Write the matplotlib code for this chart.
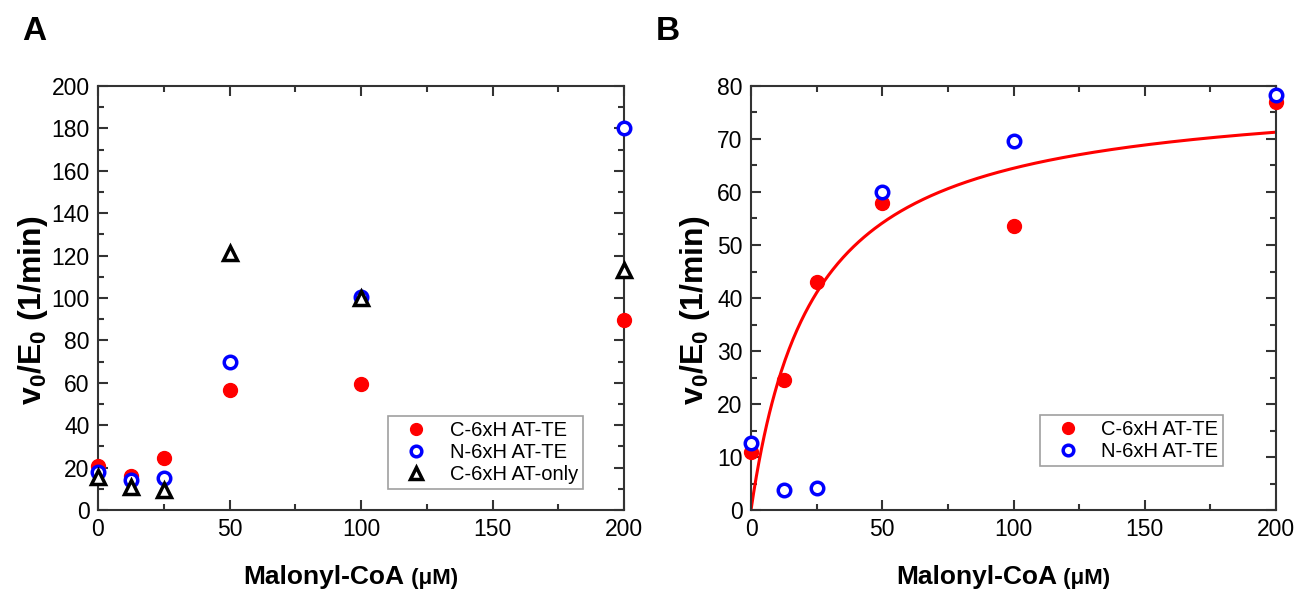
import numpy as np
import matplotlib
matplotlib.use("Agg")
import matplotlib.pyplot as plt
from matplotlib.ticker import MultipleLocator

plt.rcParams['font.family'] = ['Liberation Sans', 'DejaVu Sans']
plt.rcParams['mathtext.fontset'] = 'custom'
plt.rcParams['mathtext.rm'] = 'Liberation Sans:bold'
plt.rcParams['mathtext.it'] = 'Liberation Sans:bold'
plt.rcParams['mathtext.bf'] = 'Liberation Sans:bold'

# Panel A data
conc_a = [0, 12.5, 25, 50, 100, 200]
c6xh_a = [20.8, 16, 24.5, 56.5, 59.5, 89.8]
n6xh_a = [18, 14, 15, 70, 100.5, 180]
at_only_a = [15.5, 11, 9.5, 121, 100, 113]

# Panel B data
conc_b = [0, 12.5, 25, 50, 100, 200]
c6xh_b = [11, 24.5, 43, 58, 53.5, 77]
n6xh_b = [12.7, 3.8, 4.1, 60, 69.7, 78.3]

# Michaelis-Menten fit parameters
vmax = 79.7
km = 23.6

fig = plt.figure(figsize=(12.99, 5.93), dpi=100)
ax1 = fig.add_axes([98/1299, 83/593, 526/1299, 424/593])
ax2 = fig.add_axes([751/1299, 83/593, 525/1299, 424/593])

red_kw = dict(linestyle='none', marker='o', markersize=10, color='red', clip_on=False, zorder=3)
blue_kw = dict(linestyle='none', marker='o', markersize=9, markerfacecolor='white',
               markeredgecolor='blue', markeredgewidth=2.5, clip_on=False, zorder=4)
tri_kw = dict(linestyle='none', marker='^', markersize=10, markerfacecolor='white',
              markeredgecolor='black', markeredgewidth=2.5, clip_on=False, zorder=5)

ax1.plot(conc_a, c6xh_a, label='C-6xH AT-TE', **red_kw)
ax1.plot(conc_a, n6xh_a, label='N-6xH AT-TE', **blue_kw)
ax1.plot(conc_a, at_only_a, label='C-6xH AT-only', **tri_kw)
ax1.set_xlim(0, 200)
ax1.set_ylim(0, 200)
ax1.xaxis.set_major_locator(MultipleLocator(50))
ax1.xaxis.set_minor_locator(MultipleLocator(25))
ax1.yaxis.set_major_locator(MultipleLocator(20))
ax1.yaxis.set_minor_locator(MultipleLocator(10))

xs = np.linspace(0, 200, 400)
ax2.plot(xs, vmax * xs / (km + xs), color='red', linewidth=2.2, zorder=2)
ax2.plot(conc_b, c6xh_b, label='C-6xH AT-TE', **red_kw)
ax2.plot(conc_b, n6xh_b, label='N-6xH AT-TE', **blue_kw)
ax2.set_xlim(0, 200)
ax2.set_ylim(0, 80)
ax2.xaxis.set_major_locator(MultipleLocator(50))
ax2.xaxis.set_minor_locator(MultipleLocator(25))
ax2.yaxis.set_major_locator(MultipleLocator(10))
ax2.yaxis.set_minor_locator(MultipleLocator(5))

for ax, ylab_x in ((ax1, -0.091), (ax2, -0.074)):
    ax.tick_params(which='both', direction='in', top=True, right=True, width=1.5,
                   labelsize=16.5, colors='#333333', labelcolor='black', pad=6)
    ax.tick_params(which='major', length=7)
    ax.tick_params(which='minor', length=4)
    for s in ax.spines.values():
        s.set_linewidth(1.5)
        s.set_color('#333333')
    xl = ax.set_xlabel('Malonyl-CoA', fontsize=19, fontweight='bold')
    ax.xaxis.set_label_coords(0.43, -0.13)
    ax.annotate(' (\u03bcM)', xy=(1, 0.02), xycoords=xl, ha='left', va='bottom',
                fontsize=16, fontweight='bold')
    ax.set_ylabel('v$_0$/E$_0$ (1/min)', fontsize=23, fontweight='bold')
    ax.yaxis.set_label_coords(ylab_x, 0.47)

leg_kw = dict(loc='lower right', fontsize=14.5, frameon=True, fancybox=False,
              edgecolor='#888888', handletextpad=0.5, borderpad=0.25,
              labelspacing=0.15, markerscale=0.85, handlelength=2.3, borderaxespad=0)
leg1 = ax1.legend(bbox_to_anchor=(0.922, 0.05), **leg_kw)
leg2 = ax2.legend(bbox_to_anchor=(0.899, 0.104), **leg_kw)
for leg in (leg1, leg2):
    leg.get_frame().set_linewidth(1.2)

fig.text(22/1299, 1 - 31/593, 'A', fontsize=24, fontweight='bold', va='center')
fig.text(656/1299, 1 - 31/593, 'B', fontsize=24, fontweight='bold', va='center')

fig.savefig('out.png', dpi=100)
